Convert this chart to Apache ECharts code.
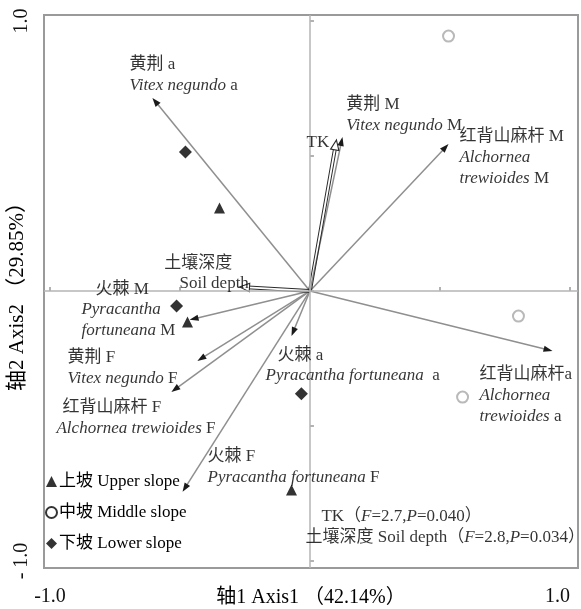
<!DOCTYPE html>
<html>
<head>
<meta charset="utf-8">
<script src="https://cdn.jsdelivr.net/npm/echarts@6/dist/echarts.min.js"></script>
<style>html,body{margin:0;padding:0;background:#fff}#c{width:581px;height:609px}</style>
</head>
<body>
<div id="c"></div>
<script>
// ---- data ----
const speciesArrowNames = ['黄荆 a','黄荆 M','红背山麻杆 M','红背山麻杆 a','火棘 a','火棘 M','黄荆 F','红背山麻杆 F','火棘 F'];
const speciesArrowX = [-0.606, 0.125, 0.533, 0.933, -0.071, -0.463, -0.433, -0.533, -0.490];
const speciesArrowY = [0.715, 0.570, 0.544, -0.222, -0.167, -0.107, -0.259, -0.374, -0.744];

const envArrowNames = ['TK','土壤深度'];
const envArrowX = [0.102, -0.271];
const envArrowY = [0.559, 0.015];

const upperX = [-0.348, -0.471, -0.071];
const upperY = [0.307, -0.115, -0.737];
const middleX = [0.533, 0.802, 0.587];
const middleY = [0.944, -0.093, -0.393];
const lowerX = [-0.479, -0.513, -0.033];
const lowerY = [0.515, -0.056, -0.381];

const seriesNames = ['上坡 Upper slope','中坡 Middle slope','下坡 Lower slope'];

const labelTexts = [
  '{c|黄荆 a}\n{i|Vitex negundo}{c| a}',
  '{c|黄荆 M}\n{i|Vitex negundo}{c| M}',
  '{c|TK}',
  '{c|红背山麻杆 M}\n{i|Alchornea}\n{i|trewioides}{c| M}',
  '{c|土壤深度}',
  '{c|Soil depth}',
  '{c|火棘 M}',
  '{i|Pyracantha}\n{i|fortuneana}{c| M}',
  '{c|黄荆 F}\n{i|Vitex negundo}{c| F}',
  '{c|红背山麻杆 F}',
  '{i|Alchornea trewioides}{c| F}',
  '{c|火棘 a}',
  '{i|Pyracantha fortuneana}{c|  a}',
  '{c|红背山麻杆a}\n{i|Alchornea}\n{i|trewioides}{c| a}',
  '{c|火棘 F}\n{i|Pyracantha fortuneana}{c| F}',
  '{c|TK（}{i|F}{c|=2.7,}{i|P}{c|=0.040）}',
  '{c|土壤深度 Soil depth（}{i|F}{c|=2.8,}{i|P}{c|=0.034）}'
];
const labelX = [-0.694, 0.140, -0.013, 0.575, -0.560, -0.502, -0.825, -0.879, -0.933, -0.952, -0.975, -0.125, -0.171, 0.652, -0.394, 0.044, -0.017];
const labelY = [0.876, 0.728, 0.587, 0.609, 0.139, 0.065, 0.046, -0.031, -0.206, -0.391, -0.469, -0.202, -0.276, -0.272, -0.576, -0.798, -0.876];

const xTickValues = [-1, -0.5, 0, 0.5, 1];
const yTickValues = [-1, -0.5, 0, 0.5, 1];
const axisLabelValues = [-1, 1];

// ---- chart ----
const FONT = '"Liberation Serif","Noto Sans CJK SC",serif';
const zip = (a, b) => a.map((v, i) => [v, b[i]]);

function speciesArrow(params, api) {
  const p0 = api.coord([0, 0]);
  const p1 = api.coord([api.value(0), api.value(1)]);
  const dx = p1[0] - p0[0], dy = p1[1] - p0[1];
  const len = Math.hypot(dx, dy);
  const ux = dx / len, uy = dy / len, nx = -uy, ny = ux;
  const L = 9, W = 3.2;
  const b = [p1[0] - ux * L, p1[1] - uy * L];
  return {
    type: 'group',
    children: [
      {type: 'line', shape: {x1: p0[0], y1: p0[1], x2: b[0] + ux * 2, y2: b[1] + uy * 2}, style: {stroke: '#8f8f8f', lineWidth: 1.5}},
      {type: 'polygon', shape: {points: [p1, [b[0] + nx * W, b[1] + ny * W], [b[0] - nx * W, b[1] - ny * W]]}, style: {fill: '#1a1a1a'}}
    ]
  };
}

function envArrow(params, api) {
  const p0 = api.coord([0, 0]);
  const p1 = api.coord([api.value(0), api.value(1)]);
  const dx = p1[0] - p0[0], dy = p1[1] - p0[1];
  const len = Math.hypot(dx, dy);
  const ux = dx / len, uy = dy / len, nx = -uy, ny = ux;
  const L = 10, W = 4.2, o = 1.4;
  const b = [p1[0] - ux * L, p1[1] - uy * L];
  return {
    type: 'group',
    children: [
      {type: 'line', shape: {x1: p0[0] + nx * o, y1: p0[1] + ny * o, x2: b[0] + nx * o, y2: b[1] + ny * o}, style: {stroke: '#2a2a2a', lineWidth: 1}},
      {type: 'line', shape: {x1: p0[0] - nx * o, y1: p0[1] - ny * o, x2: b[0] - nx * o, y2: b[1] - ny * o}, style: {stroke: '#2a2a2a', lineWidth: 1}},
      {type: 'polygon', shape: {points: [p1, [b[0] + nx * W, b[1] + ny * W], [b[0] - nx * W, b[1] - ny * W]]}, style: {fill: '#fff', stroke: '#2a2a2a', lineWidth: 1.1}}
    ]
  };
}

const richStyles = {
  c: {fontFamily: FONT, fontSize: 17, color: '#000', lineHeight: 21},
  i: {fontFamily: FONT, fontSize: 17, fontStyle: 'italic', color: '#000', lineHeight: 21}
};

const chart = echarts.init(document.getElementById('c'), null, {renderer: 'canvas'});
chart.setOption({
  animation: false,
  backgroundColor: '#fff',
  grid: {left: 44, right: 3, top: 15, bottom: 41, containLabel: false, outerBoundsMode: 'none', show: true, borderColor: '#9a9a9a', borderWidth: 2, backgroundColor: 'transparent'},
  xAxis: {
    type: 'value', min: -1.023, max: 1.031,
    name: '轴1 Axis1 （42.14%）', nameLocation: 'middle', nameGap: 20, nameMoveOverlap: false,
    nameTextStyle: {fontFamily: FONT, fontSize: 20, color: '#000'},
    splitLine: {show: false},
    axisLine: {show: false},
    axisTick: {show: true, inside: true, length: 4, customValues: xTickValues, lineStyle: {color: '#999', width: 1.5}},
    axisLabel: {customValues: axisLabelValues, formatter: v => (v < 0 ? '-1.0' : '1.0'), fontFamily: FONT, fontSize: 20, color: '#111', margin: 19, alignMinLabel: 'center', alignMaxLabel: 'right'}
  },
  yAxis: {
    type: 'value', min: -1.026, max: 1.022,
    name: '轴2 Axis2 （29.85%）', nameLocation: 'middle', nameGap: 16, nameRotate: 90, nameMoveOverlap: false,
    nameTextStyle: {fontFamily: FONT, fontSize: 21, color: '#000'},
    splitLine: {show: false},
    axisLine: {show: false},
    axisTick: {show: true, inside: true, length: 4, customValues: yTickValues, lineStyle: {color: '#999', width: 1.5}},
    axisLabel: {customValues: axisLabelValues, rotate: 90, formatter: v => (v < 0 ? '- 1.0' : '1.0'), fontFamily: FONT, fontSize: 20, color: '#111', margin: 12}
  },
  legend: {
    orient: 'vertical', left: 45, top: 473, padding: 0, itemGap: 14, itemWidth: 11, itemHeight: 11,
    textStyle: {fontFamily: FONT, fontSize: 17, color: '#000', padding: [0, 0, 0, -3]},
    selectedMode: false,
    data: [
      {name: seriesNames[0], icon: 'triangle', itemStyle: {color: '#000', borderWidth: 0}},
      {name: seriesNames[1], icon: 'circle', itemStyle: {color: '#fff', borderColor: '#000', borderWidth: 2}},
      {name: seriesNames[2], icon: 'diamond', itemStyle: {color: '#000', borderWidth: 0}}
    ]
  },
  series: [
    {
      type: 'scatter', name: 'zero', data: [], silent: true, z: 1,
      markLine: {silent: true, symbol: 'none', label: {show: false}, lineStyle: {color: '#b5b5b5', width: 1.5, type: 'solid'}, data: [{xAxis: 0}, {yAxis: 0}]}
    },
    {type: 'custom', name: 'species', renderItem: speciesArrow, data: zip(speciesArrowX, speciesArrowY), encode: {x: 0, y: 1}, clip: false, silent: true, z: 3},
    {type: 'custom', name: 'env', renderItem: envArrow, data: zip(envArrowX, envArrowY), encode: {x: 0, y: 1}, clip: false, silent: true, z: 4},
    {type: 'scatter', name: seriesNames[0], symbol: 'triangle', symbolSize: 11, itemStyle: {color: '#000'}, data: zip(upperX, upperY), z: 5},
    {type: 'scatter', name: seriesNames[1], symbol: 'emptyCircle', symbolSize: 11, itemStyle: {color: '#a8a8a8', borderWidth: 1.6}, data: zip(middleX, middleY), z: 5},
    {type: 'scatter', name: seriesNames[2], symbol: 'diamond', symbolSize: 13, itemStyle: {color: '#000'}, data: zip(lowerX, lowerY), z: 5},
    {
      type: 'scatter', name: 'labels', symbolSize: 0, silent: true, z: 6,
      itemStyle: {color: 'transparent'},
      label: {show: true, position: [0, 0], align: 'left', verticalAlign: 'top', rich: richStyles},
      data: labelTexts.map((t, i) => ({value: [labelX[i], labelY[i]], label: {formatter: t}}))
    }
  ]
});
</script>
</body>
</html>
